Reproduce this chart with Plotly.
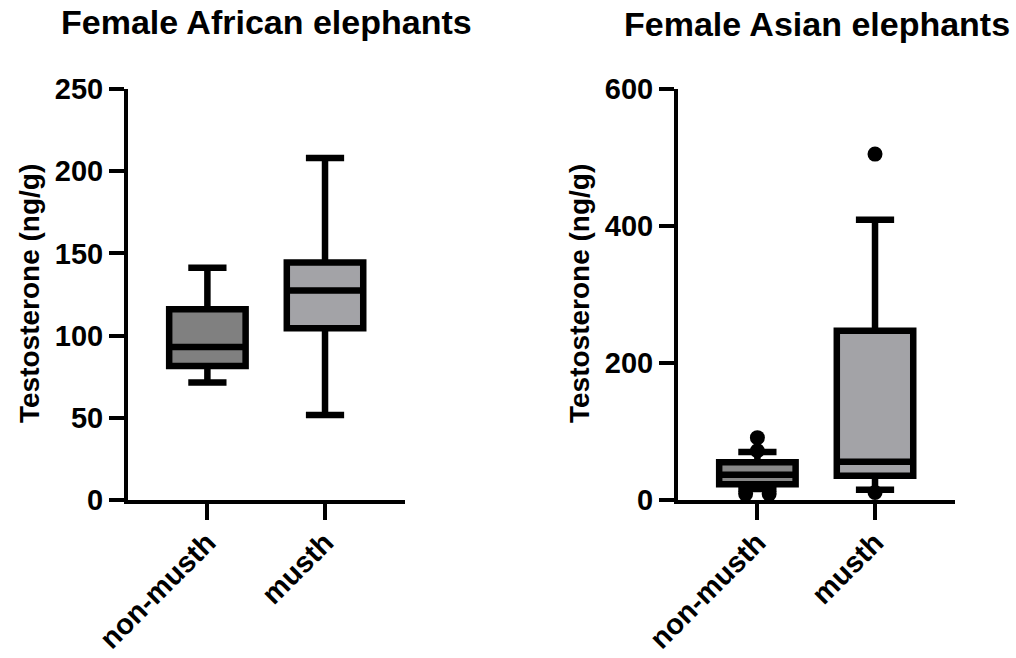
import plotly.graph_objects as go

categories = ["non-musth", "musth"]

# Female African elephants (ng/g)
af_lower = [71.4, 51.7]
af_q1 = [81.5, 104.4]
af_median = [93.0, 127.5]
af_q3 = [116.0, 144.4]
af_upper = [141.3, 208.0]

# Female Asian elephants (ng/g)
as_lower = [16.0, 15.0]
as_q1 = [23.0, 35.5]
as_median = [37.0, 56.0]
as_q3 = [55.0, 247.0]
as_upper = [70.0, 409.0]
as_out_nonmusth = [91.0, 72.0, 9.0, 9.0]
as_out_musth = [505.0, 11.0]

# styling
FONT = "Liberation Sans, Arial, sans-serif"
fills_af = ["#808080", "#a3a3a7"]
fills_as = ["#878787", "#a3a3a7"]
outlier_spread_nonmusth = [0.0, 0.0, -0.1, 0.1]
outlier_spread_musth = [0.0, 0.0]

W, H = 1016, 658
def px(x):
    return x / W
def py(y):
    return 1 - y / H

fig = go.Figure()

def add_boxes(xa, ya, lower, q1, med, q3, upper, fills):
    for i, cat in enumerate(categories):
        fig.add_trace(go.Box(
            x=[i], q1=[q1[i]], median=[med[i]], q3=[q3[i]],
            lowerfence=[lower[i]], upperfence=[upper[i]],
            width=0.65, whiskerwidth=0.5, boxpoints=False,
            fillcolor=fills[i], line=dict(color="black", width=6.5),
            xaxis=xa, yaxis=ya, showlegend=False, name=cat,
        ))

add_boxes("x", "y", af_lower, af_q1, af_median, af_q3, af_upper, fills_af)
add_boxes("x2", "y2", as_lower, as_q1, as_median, as_q3, as_upper, fills_as)

fig.add_trace(go.Scatter(
    x=[0 + d for d in outlier_spread_nonmusth], y=as_out_nonmusth,
    mode="markers", marker=dict(color="black", size=15),
    xaxis="x2", yaxis="y2", showlegend=False, cliponaxis=False))
fig.add_trace(go.Scatter(
    x=[1 + d for d in outlier_spread_musth], y=as_out_musth,
    mode="markers", marker=dict(color="black", size=15),
    xaxis="x2", yaxis="y2", showlegend=False, cliponaxis=False))

ydom = [py(500), py(89)]
xcommon = dict(
    range=[-0.675, 1.68], tickmode="array", tickvals=[0, 1], ticktext=categories,
    tickangle=-45, ticks="outside", ticklen=16, tickwidth=4, tickcolor="black",
    ticklabelstandoff=-6,
    showline=True, linewidth=4, linecolor="black", showgrid=False, zeroline=False,
    tickfont=dict(family=FONT, size=29, color="black", weight="bold"),
    fixedrange=True, automargin=False,
)
ycommon = dict(
    ticks="outside", ticklen=15, tickwidth=4, tickcolor="black",
    showline=True, linewidth=4, linecolor="black", showgrid=False, zeroline=False,
    tickfont=dict(family=FONT, size=29, color="black", weight="bold"),
    fixedrange=True, automargin=False,
)

fig.update_layout(
    width=W, height=H,
    margin=dict(l=0, r=0, t=0, b=0),
    plot_bgcolor="white", paper_bgcolor="white",
    hovermode=False,
    xaxis=dict(domain=[px(128), px(405)], anchor="y", **xcommon),
    yaxis=dict(domain=ydom, anchor="x", range=[0, 250], tickvals=[0, 50, 100, 150, 200, 250], **ycommon),
    xaxis2=dict(domain=[px(678), px(955)], anchor="y2", **xcommon),
    yaxis2=dict(domain=ydom, anchor="x2", range=[0, 600], tickvals=[0, 200, 400, 600], **ycommon),
    annotations=[
        dict(text="Female African elephants", x=px(266), y=py(22), xref="paper", yref="paper",
             showarrow=False, xanchor="center", yanchor="middle",
             font=dict(family=FONT, size=34, color="black", weight="bold")),
        dict(text="Female Asian elephants", x=px(817), y=py(24), xref="paper", yref="paper",
             showarrow=False, xanchor="center", yanchor="middle",
             font=dict(family=FONT, size=34, color="black", weight="bold")),
        dict(text="Testosterone (ng/g)", x=px(29), y=py(294), xref="paper", yref="paper",
             showarrow=False, xanchor="center", yanchor="middle", textangle=-90,
             font=dict(family=FONT, size=28, color="black", weight="bold")),
        dict(text="Testosterone (ng/g)", x=px(579), y=py(294), xref="paper", yref="paper",
             showarrow=False, xanchor="center", yanchor="middle", textangle=-90,
             font=dict(family=FONT, size=28, color="black", weight="bold")),
    ],
)

fig.write_html(
    "out.html",
    config={"displayModeBar": False, "staticPlot": True},
    post_script="document.body.style.margin='0';document.body.style.overflow='hidden';",
)
